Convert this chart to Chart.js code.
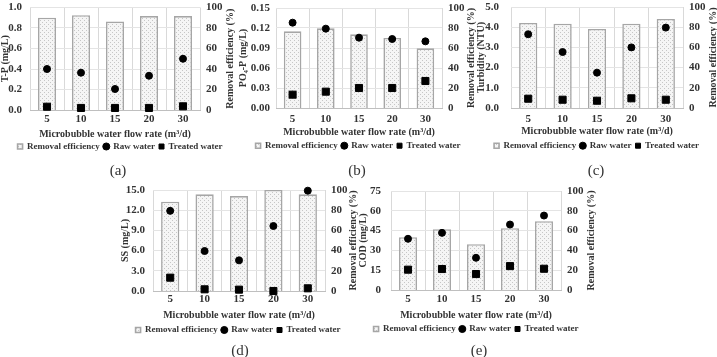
<!DOCTYPE html>
<html>
<head>
<meta charset="utf-8">
<script src="https://cdn.jsdelivr.net/npm/chart.js@4.4.0/dist/chart.umd.min.js"></script>
<style>
  body { margin: 0; background: #fff; width: 717px; height: 357px; position: relative; overflow: hidden; font-family: 'Liberation Serif', serif; }
  canvas { position: absolute; }
  .cap { position: absolute; font-size: 15px; line-height: 18px; color: #333; transform: translate(-50%, -50%); }
</style>
</head>
<body>
<canvas id="cA" width="240" height="166" style="left:0;top:0"></canvas>
<canvas id="cB" width="240" height="166" style="left:238px;top:0"></canvas>
<canvas id="cC" width="241" height="166" style="left:476px;top:0"></canvas>
<canvas id="cD" width="240" height="170" style="left:118px;top:182px"></canvas>
<canvas id="cE" width="240" height="170" style="left:356px;top:182px"></canvas>
<div class="cap" style="left:118px;top:170px">(a)</div>
<div class="cap" style="left:357px;top:170px">(b)</div>
<div class="cap" style="left:596px;top:170px">(c)</div>
<div class="cap" style="left:240px;top:350px">(d)</div>
<div class="cap" style="left:479px;top:350px">(e)</div>
<script>
const flowRates = ['5', '10', '15', '20', '30'];

// (a) T-P
const tpEfficiency = [90, 92.5, 86.4, 91.6, 91.6];
const tpRaw = [0.40, 0.364, 0.205, 0.334, 0.50];
const tpTreated = [0.032, 0.02, 0.02, 0.02, 0.036];

// (b) PO4-P
const poEfficiency = [76.7, 79.7, 73.7, 70, 59.7];
const poRaw = [0.128, 0.119, 0.1055, 0.1035, 0.10];
const poTreated = [0.02, 0.0245, 0.03, 0.03, 0.0405];

// (c) Turbidity
const turbEfficiency = [84.2, 83.5, 78.2, 83.5, 88.1];
const turbRaw = [3.65, 2.77, 1.75, 3.0, 3.98];
const turbTreated = [0.46, 0.41, 0.36, 0.48, 0.41];

// (d) SS
const ssEfficiency = [88.4, 95.7, 94, 100, 95.7];
const ssRaw = [11.9, 5.94, 4.55, 9.65, 14.9];
const ssTreated = [1.98, 0.25, 0.2, 0, 0.4];

// (e) COD
const codEfficiency = [53.4, 61.4, 46.3, 62.4, 69.5];
const codRaw = [38.8, 43.3, 24.4, 49.6, 56.4];
const codTreated = [15.4, 15.9, 12.1, 18.1, 16.1];

const effTicks = [0, 20, 40, 60, 80, 100];

const txt = '#333';
const fam = "'Liberation Serif', 'Times New Roman', serif";

function dotPattern() {
  const c = document.createElement('canvas');
  c.width = 4; c.height = 4;
  const g = c.getContext('2d');
  g.fillStyle = '#f5f5f5';
  g.fillRect(0, 0, 4, 4);
  g.fillStyle = '#c6c6c6';
  g.fillRect(0, 0, 1, 1);
  g.fillRect(2, 2, 1, 1);
  return g.createPattern(c, 'repeat');
}

// right-hand title, rotated to read bottom-up like the left one
const rightTitle = {
  id: 'rightTitle',
  afterDraw(chart, args, opts) {
    const c = chart.ctx, a = chart.chartArea;
    c.save();
    c.translate(opts.x, (a.top + a.bottom) / 2);
    c.rotate(-Math.PI / 2);
    c.font = 'bold 10px ' + fam;
    c.fillStyle = txt;
    c.textAlign = 'center';
    c.textBaseline = 'middle';
    c.fillText(opts.text, 0, 0);
    c.restore();
  }
};

// keep tick labels from pushing the plot box around
function noPad(s) {
  s.paddingTop = 0; s.paddingBottom = 0; s.paddingLeft = 0; s.paddingRight = 0;
}

// g: plot box and text rows, in canvas pixels
function makePanel(id, yTitle, eff, raw, treated, yMax, yStep, dec, g) {
  const cv = document.getElementById(id);
  const legTop = g.legY - 8.5;
  const xH = legTop - g.bottom;
  return new Chart(cv.getContext('2d'), {
    type: 'bar',
    data: {
      labels: flowRates,
      datasets: [
        { type: 'bar', label: 'Removal efficiency', data: eff, yAxisID: 'y1',
          backgroundColor: dotPattern(), borderColor: '#a6a6a6', borderWidth: 1.6,
          barPercentage: 0.53, categoryPercentage: 1, pointStyle: 'rect', order: 2 },
        { type: 'line', label: 'Raw water', data: raw, yAxisID: 'y', showLine: false,
          pointStyle: 'circle', pointRadius: 3.5, backgroundColor: '#000', borderColor: '#000',
          clip: false, order: 1 },
        { type: 'line', label: 'Treated water', data: treated, yAxisID: 'y', showLine: false,
          pointStyle: 'rect', pointRadius: 5, backgroundColor: '#000', borderColor: '#000',
          clip: false, order: 0 }
      ]
    },
    plugins: [rightTitle],
    options: {
      responsive: false,
      animation: false,
      layout: { padding: { top: g.top, left: 0, right: 0, bottom: cv.height - legTop - 23 } },
      plugins: {
        tooltip: { enabled: false },
        rightTitle: { x: g.titleRX, text: 'Removal efficiency (%)' },
        legend: {
          position: 'bottom',
          labels: {
            usePointStyle: true, boxWidth: 5, boxHeight: 5, padding: 4,
            color: txt, font: { family: fam, size: 9, weight: 'bold' },
            sort: (a, b) => a.datasetIndex - b.datasetIndex
          }
        }
      },
      scales: {
        x: {
          afterFit: s => { s.height = xH; noPad(s); },
          grid: { color: '#d9d9d9', drawTicks: false, offset: true },
          border: { color: '#bfbfbf' },
          ticks: { color: txt, padding: g.tickY - g.bottom - 8.5, font: { family: fam, size: 11, weight: 'bold' } },
          title: { display: true, text: 'Microbubble water flow rate (m³/d)', color: txt,
                   padding: { top: 0, bottom: legTop - g.titleY - 5 },
                   font: { family: fam, size: 10, weight: 'bold', lineHeight: 1 } }
        },
        y: {
          position: 'left', min: 0, max: yMax,
          afterFit: s => { s.width = g.plotL; noPad(s); },
          grid: { color: '#e4e4e4', drawTicks: false },
          border: { display: false },
          ticks: { stepSize: yStep, autoSkip: false, color: txt, padding: g.lPad,
                   font: { family: fam, size: 11, weight: 'bold' },
                   callback: v => Number(v).toFixed(dec) },
          title: { display: true, text: yTitle, color: txt, padding: { top: g.lTitle, bottom: 0 },
                   font: { family: fam, size: 10, weight: 'bold', lineHeight: 1 } }
        },
        y1: {
          position: 'right', min: effTicks[0], max: effTicks[effTicks.length - 1],
          afterFit: s => { s.width = cv.width - g.plotR; noPad(s); },
          grid: { display: false, drawTicks: false },
          border: { display: false },
          afterBuildTicks: s => { s.ticks = effTicks.map(v => ({ value: v })); },
          ticks: { autoSkip: false, color: txt, padding: 6, font: { family: fam, size: 11, weight: 'bold' } }
        }
      }
    }
  });
}

makePanel('cA', 'T-P (mg/L)', tpEfficiency, tpRaw, tpTreated, 1.0, 0.2, 1,
  { top: 7.5, bottom: 110, plotL: 30, plotR: 200, lPad: 8, lTitle: 0, titleRX: 230, tickY: 121, titleY: 134.5, legY: 146.5 });
makePanel('cB', 'PO₄-P (mg/L)', poEfficiency, poRaw, poTreated, 0.15, 0.03, 2,
  { top: 8, bottom: 108, plotL: 38, plotR: 204, lPad: 6, lTitle: 0, titleRX: 233, tickY: 121, titleY: 132, legY: 145.7 });
makePanel('cC', 'Turbidity (NTU)', turbEfficiency, turbRaw, turbTreated, 5.0, 1.0, 1,
  { top: 7, bottom: 108, plotL: 35, plotR: 207, lPad: 12, lTitle: 0, titleRX: 237, tickY: 121, titleY: 131.7, legY: 145.7 });
makePanel('cD', 'SS (mg/L)', ssEfficiency, ssRaw, ssTreated, 15.0, 3.0, 1,
  { top: 8, bottom: 109, plotL: 35, plotR: 207, lPad: 8, lTitle: 2, titleRX: 235, tickY: 118.7, titleY: 133, legY: 148 });
makePanel('cE', 'COD (mg/L)', codEfficiency, codRaw, codTreated, 75, 15, 0,
  { top: 9, bottom: 108, plotL: 35, plotR: 205, lPad: 10, lTitle: 2, titleRX: 235, tickY: 118.7, titleY: 133, legY: 147 });
</script>
</body>
</html>
